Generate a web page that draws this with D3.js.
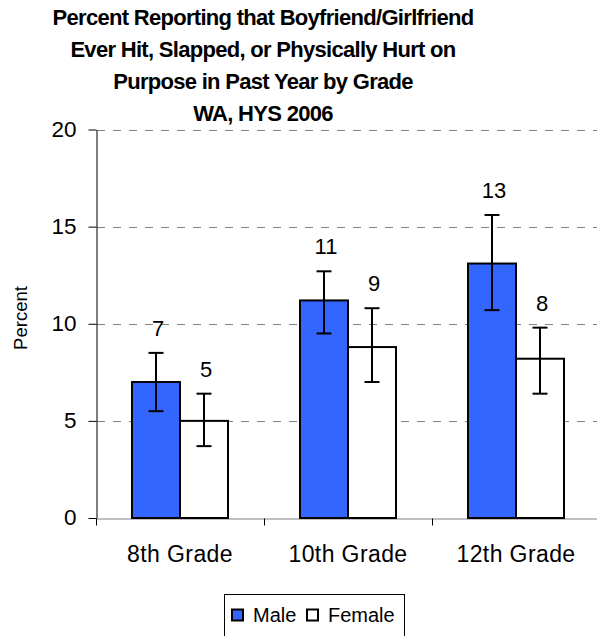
<!DOCTYPE html>
<html>
<head>
<meta charset="utf-8">
<script src="https://cdn.jsdelivr.net/npm/d3@7"></script>
<style>
  html, body { margin: 0; padding: 0; background: #fff; }
  svg { display: block; font-family: "Liberation Sans", Arial, sans-serif; }
</style>
</head>
<body>
<svg id="chart" width="597" height="636"></svg>
<script>
const categories = ["8th Grade", "10th Grade", "12th Grade"];
const series = ["Male", "Female"];
const maleValues = [7.0, 11.2, 13.1];
const femaleValues = [5.0, 8.8, 8.2];
const maleLow = [5.5, 9.5, 10.7];
const maleHigh = [8.5, 12.7, 15.6];
const femaleLow = [3.7, 7.0, 6.4];
const femaleHigh = [6.4, 10.8, 9.8];
const maleLabels = ["7", "11", "13"];
const femaleLabels = ["5", "9", "8"];
const yTicks = [0, 5, 10, 15, 20];
const titleLines = [
  "Percent Reporting that Boyfriend/Girlfriend",
  "Ever Hit, Slapped, or Physically Hurt on",
  "Purpose in Past Year by Grade",
  "WA, HYS 2006"
];

const colors = { Male: "#3366FF", Female: "#FFFFFF" };

const rows = [];
categories.forEach((c, i) => {
  rows.push({ cat: c, s: "Male", v: maleValues[i], lo: maleLow[i], hi: maleHigh[i], label: maleLabels[i] });
  rows.push({ cat: c, s: "Female", v: femaleValues[i], lo: femaleLow[i], hi: femaleHigh[i], label: femaleLabels[i] });
});

const svg = d3.select("#chart");
const plotLeft = 96, plotRight = 600, plotTop = 129.5, plotBottom = 518;

const x = d3.scaleBand().domain(categories).range([plotLeft, plotRight]).paddingInner(0).paddingOuter(0);
const x1 = d3.scaleBand().domain(series).range([0, x.bandwidth()]).paddingInner(0).paddingOuter(0.75);
const y = d3.scaleLinear().domain([0, 20]).range([plotBottom, plotTop]);

// Title
const title = svg.append("g");
titleLines.forEach((t, i) => {
  title.append("text")
    .attr("x", 263).attr("y", 25 + i * 32)
    .attr("text-anchor", "middle")
    .attr("font-size", 22).attr("font-weight", "bold")
    .attr("letter-spacing", "-0.7")
    .attr("fill", "#000")
    .text(t);
});

// Gridlines
svg.append("g").selectAll("line")
  .data(yTicks.filter(d => d > 0))
  .join("line")
  .attr("x1", plotLeft + 1).attr("x2", 597)
  .attr("y1", d => Math.round(y(d)) + 0.5).attr("y2", d => Math.round(y(d)) + 0.5)
  .attr("stroke", "#808080").attr("stroke-width", 1)
  .attr("stroke-dasharray", "8,8");

// Y axis
const yAxis = d3.axisLeft(y).tickValues(yTicks).tickSize(8).tickPadding(6).tickSizeOuter(0);
const gy = svg.append("g").attr("transform", `translate(${plotLeft + 0.5},0)`).call(yAxis);
gy.select(".domain").attr("stroke", "#000");
gy.selectAll(".tick line").attr("stroke", "#000");
gy.selectAll(".tick text").attr("font-size", 22.5).attr("fill", "#000")
  .attr("font-family", "Liberation Sans, Arial, sans-serif").attr("dx", "-6").attr("dy", "0.3em");

// X axis
const xAxis = d3.axisBottom(x).tickSize(0).tickPadding(0).tickSizeOuter(0);
const gx = svg.append("g").attr("transform", `translate(0,${plotBottom + 0.5})`).call(xAxis);
gx.select(".domain").attr("stroke", "#808080");
gx.selectAll(".tick text").attr("font-size", 23).attr("fill", "#000")
  .attr("letter-spacing", "0.4")
  .attr("font-family", "Liberation Sans, Arial, sans-serif")
  .attr("y", 43).attr("dy", 0);
// category boundary ticks
gx.append("g").selectAll("line")
  .data(categories)
  .join("line")
  .attr("x1", d => x(d) + 0.5).attr("x2", d => x(d) + 0.5)
  .attr("y1", 0).attr("y2", 7)
  .attr("stroke", "#000");

// Bars
svg.append("g").selectAll("rect")
  .data(rows)
  .join("rect")
  .attr("x", d => x(d.cat) + x1(d.s))
  .attr("y", d => y(d.v))
  .attr("width", x1.bandwidth())
  .attr("height", d => y(0) - y(d.v))
  .attr("fill", d => colors[d.s])
  .attr("stroke", "#000").attr("stroke-width", 2);

// Error bars
const eb = svg.append("g").attr("stroke", "#000").attr("stroke-width", 2);
rows.forEach(d => {
  const cx = x(d.cat) + x1(d.s) + x1.bandwidth() / 2;
  eb.append("line").attr("x1", cx).attr("x2", cx).attr("y1", y(d.hi)).attr("y2", y(d.lo));
  eb.append("line").attr("x1", cx - 7.5).attr("x2", cx + 7.5).attr("y1", y(d.hi)).attr("y2", y(d.hi));
  eb.append("line").attr("x1", cx - 7.5).attr("x2", cx + 7.5).attr("y1", y(d.lo)).attr("y2", y(d.lo));
});

// Value labels
svg.append("g").selectAll("text")
  .data(rows)
  .join("text")
  .attr("x", d => x(d.cat) + x1(d.s) + x1.bandwidth() / 2 + 2)
  .attr("y", d => y(d.hi) - 17)
  .attr("text-anchor", "middle")
  .attr("font-size", 22).attr("fill", "#000")
  .text(d => d.label);

// Y axis title
svg.append("text")
  .attr("transform", "translate(27,318) rotate(-90)")
  .attr("text-anchor", "middle")
  .attr("font-size", 18.5).attr("fill", "#000")
  .text("Percent");

// Legend
const lg = svg.append("g");
lg.append("rect").attr("x", 224.5).attr("y", 594.5).attr("width", 180).attr("height", 50)
  .attr("fill", "#fff").attr("stroke", "#000").attr("stroke-width", 1);
const legendX = [232, 307];
series.forEach((s, i) => {
  lg.append("rect").attr("x", legendX[i]).attr("y", 609.5).attr("width", 11).attr("height", 11)
    .attr("fill", colors[s]).attr("stroke", "#000").attr("stroke-width", 2);
  lg.append("text").attr("x", legendX[i] + 21).attr("y", 622)
    .attr("font-size", 20).attr("fill", "#000").text(s);
});
</script>
</body>
</html>
